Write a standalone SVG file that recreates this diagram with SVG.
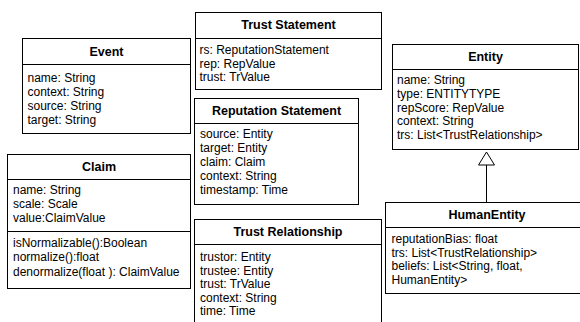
<svg xmlns="http://www.w3.org/2000/svg" width="580" height="322" viewBox="0 0 580 322">
<style>
.box{fill:#fff;stroke:#000;stroke-width:1}
.sep{stroke:#000;stroke-width:1}
.t{font-family:"Liberation Sans",Arial,Helvetica,sans-serif;font-size:12.5px;font-weight:bold;text-anchor:middle;fill:#000}
.a{font-family:"Liberation Sans",Arial,Helvetica,sans-serif;font-size:12px;fill:#000}
.edge{stroke:#000;stroke-width:1;fill:none}
</style>
<rect width="580" height="322" fill="#fff"/>
<g id="event">
<rect class="box" x="22.5" y="38.5" width="168" height="95"/>
<line class="sep" x1="22.5" y1="64.5" x2="190.5" y2="64.5"/>
<text class="t" x="106.5" y="55.5">Event</text>
<text class="a" x="27.5" y="81.5">name: String</text>
<text class="a" x="27.5" y="95.5">context: String</text>
<text class="a" x="27.5" y="109.5">source: String</text>
<text class="a" x="27.5" y="123.5">target: String</text>
</g>
<g id="claim">
<rect class="box" x="7.5" y="154.5" width="183" height="134"/>
<line class="sep" x1="7.5" y1="179.5" x2="190.5" y2="179.5"/>
<line class="sep" x1="7.5" y1="231.5" x2="190.5" y2="231.5"/>
<text class="t" x="99" y="171">Claim</text>
<text class="a" x="13" y="194">name: String</text>
<text class="a" x="13" y="208">scale: Scale</text>
<text class="a" x="13" y="222">value:ClaimValue</text>
<text class="a" x="13" y="247">isNormalizable():Boolean</text>
<text class="a" x="13" y="261">normalize():float</text>
<text class="a" x="13" y="276">denormalize(float ): ClaimValue</text>
</g>
<g id="trust-statement">
<rect class="box" x="195.5" y="12.5" width="186" height="77"/>
<line class="sep" x1="195.5" y1="38.5" x2="381.5" y2="38.5"/>
<text class="t" x="288.5" y="29">Trust Statement</text>
<text class="a" x="199.5" y="54">rs: ReputationStatement</text>
<text class="a" x="199.5" y="67.5">rep: RepValue</text>
<text class="a" x="199.5" y="81">trust: TrValue</text>
</g>
<g id="reputation-statement">
<rect class="box" x="194.5" y="98.5" width="164" height="106"/>
<line class="sep" x1="194.5" y1="123.5" x2="358.5" y2="123.5"/>
<text class="t" x="276.5" y="115">Reputation Statement</text>
<text class="a" x="200" y="137.5">source: Entity</text>
<text class="a" x="200" y="151.5">target: Entity</text>
<text class="a" x="200" y="165.5">claim: Claim</text>
<text class="a" x="200" y="180">context: String</text>
<text class="a" x="200" y="194">timestamp: Time</text>
</g>
<g id="trust-relationship">
<rect class="box" x="194.5" y="219.5" width="187" height="112"/>
<line class="sep" x1="194.5" y1="244.5" x2="381.5" y2="244.5"/>
<text class="t" x="288" y="236">Trust Relationship</text>
<text class="a" x="200" y="261">trustor: Entity</text>
<text class="a" x="200" y="274.5">trustee: Entity</text>
<text class="a" x="200" y="287.5">trust: TrValue</text>
<text class="a" x="200" y="301.5">context: String</text>
<text class="a" x="200" y="315">time: Time</text>
</g>
<g id="entity">
<rect class="box" x="392.5" y="44.5" width="186" height="105"/>
<line class="sep" x1="392.5" y1="69.5" x2="578.5" y2="69.5"/>
<text class="t" x="485.5" y="61">Entity</text>
<text class="a" x="397" y="84">name: String</text>
<text class="a" x="397" y="97.5">type: ENTITYTYPE</text>
<text class="a" x="397" y="111.5">repScore: RepValue</text>
<text class="a" x="397" y="125">context: String</text>
<text class="a" x="397" y="139">trs: List&lt;TrustRelationship&gt;</text>
</g>
<g id="human-entity">
<rect class="box" x="385.5" y="202.5" width="203" height="91"/>
<line class="sep" x1="385.5" y1="227.5" x2="588.5" y2="227.5"/>
<text class="t" x="487" y="219">HumanEntity</text>
<text class="a" x="391.5" y="243">reputationBias: float</text>
<text class="a" x="391.5" y="256.5">trs: List&lt;TrustRelationship&gt;</text>
<text class="a" x="391.5" y="270">beliefs: List&lt;String, float,</text>
<text class="a" x="391.5" y="283.5">HumanEntity&gt;</text>
</g>
<g id="connectors">
<line class="edge" x1="486.5" y1="165" x2="486.5" y2="202.5"/>
<polygon points="486.5,152 478.5,165 494.5,165" fill="#fff" stroke="#000" stroke-width="1"/>
</g>
</svg>
